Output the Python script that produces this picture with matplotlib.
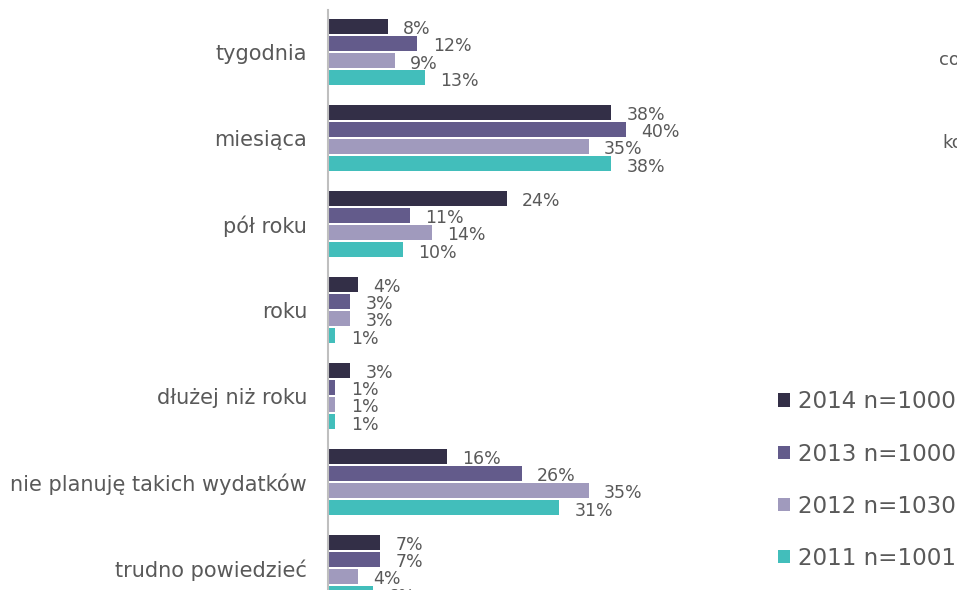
import numpy as np
import matplotlib
matplotlib.use("Agg")
import matplotlib.pyplot as plt

# dane
kategorie = ["tygodnia", "miesiąca", "pół roku", "roku", "dłużej niż roku",
             "nie planuję takich wydatków", "trudno powiedzieć"]
lata = ["2014 n=1000", "2013 n=1000", "2012 n=1030", "2011 n=1001"]
v2014 = [8, 38, 24, 4, 3, 16, 7]
v2013 = [12, 40, 11, 3, 1, 26, 7]
v2012 = [9, 35, 14, 3, 1, 35, 4]
v2011 = [13, 38, 10, 1, 1, 31, 6]
serie = [v2014, v2013, v2012, v2011]
kolory = ["#332F47", "#635B8B", "#A09ABD", "#42BEBB"]

szary = "#595959"
plt.rcParams['font.family'] = ['DejaVu Sans']

W, H = 957, 590
fig = plt.figure(figsize=(W / 100, H / 100), dpi=100)

# os: od x=328 px, od gory y=10 px, wychodzi poza dol obrazka
x0, x1 = 328, 328 + 447
y_top, y_bot = 10, 611
ax = fig.add_axes([x0 / W, (H - y_bot) / H, (x1 - x0) / W, (y_bot - y_top) / H])

y = np.arange(len(kategorie))
krok = 0.2
wys = 0.175
for i, (vals, kol, lab) in enumerate(zip(serie, kolory, lata)):
    pos = y + (i - 1.5) * krok
    ax.barh(pos, vals, height=wys, color=kol, label=lab)
    for p, v in zip(pos, vals):
        ax.annotate(f"{v}%", (v, p), xytext=(11, -2), textcoords="offset points",
                    ha="left", va="center", fontsize=12.5, color=szary)

ax.set_xlim(0, 60)
ax.set_ylim(6.5, -0.49)
ax.set_yticks(y)
ax.set_yticklabels(kategorie, fontsize=15, color=szary)
ax.tick_params(axis="y", length=0, pad=15)
ax.set_xticks([])
for s in ["top", "right", "bottom"]:
    ax.spines[s].set_visible(False)
ax.spines["left"].set_color("#BFBFBF")
ax.spines["left"].set_linewidth(1.5)

# legenda po prawej
ax.legend(loc="upper left", bbox_to_anchor=(769 / W, 1 - 381 / H),
          bbox_transform=fig.transFigure, frameon=False, fontsize=16.6,
          handlelength=0.5, handleheight=0.5, handletextpad=0.35,
          labelspacing=1.27, labelcolor=szary, borderaxespad=0)

# fragmenty tekstu z sasiedniego wykresu (przyciete)
fig.text(939 / W, 1 - 60 / H, "co", fontsize=13, color=szary, va="center")
fig.text(942 / W, 1 - 143 / H, "ko", fontsize=13, color=szary, va="center")

fig.savefig("out.png", dpi=100)
